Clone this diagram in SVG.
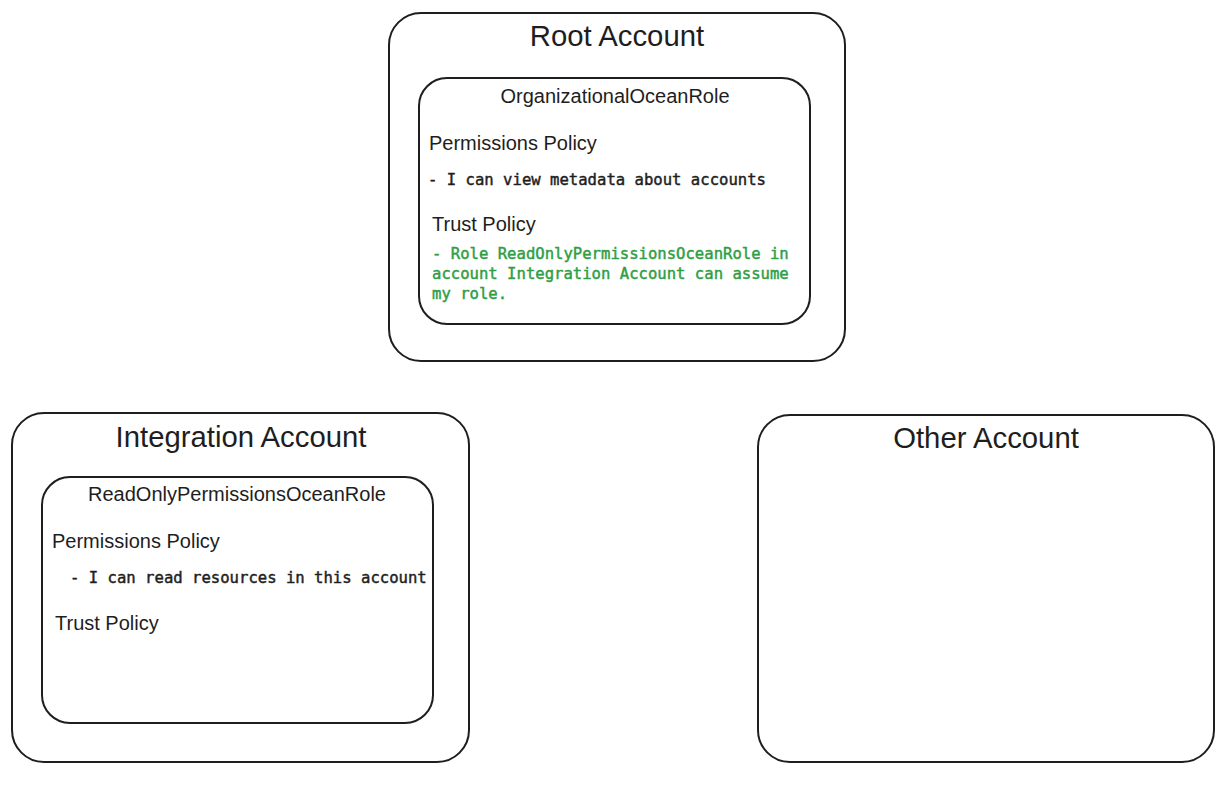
<svg xmlns="http://www.w3.org/2000/svg" width="1225" height="787" viewBox="0 0 1225 787">
<style>
.box{fill:none;stroke:#1e1e1e;stroke-width:2}
.title{font-family:"Liberation Sans",Arial,sans-serif;font-size:29.3px;fill:#1e1e1e;text-anchor:middle}
.role{font-family:"Liberation Sans",Arial,sans-serif;font-size:20px;fill:#1e1e1e;text-anchor:middle}
.head{font-family:"Liberation Sans",Arial,sans-serif;font-size:20px;fill:#1e1e1e}
.mono{font-family:"DejaVu Sans Mono","Liberation Mono",monospace;font-size:15.6px;fill:#1e1e1e;stroke:#1e1e1e;stroke-width:0.45}
.green{fill:#2f9e44;stroke:#2f9e44}
</style>
<rect width="1225" height="787" fill="#ffffff"/>
<g id="root-account">
<rect class="box" x="389" y="13" width="456" height="348" rx="32"/>
<text class="title" x="617" y="46">Root Account</text>
</g>
<g id="organizational-ocean-role">
<rect class="box" x="419" y="78" width="391" height="246" rx="28"/>
<text class="role" x="615" y="103">OrganizationalOceanRole</text>
<text class="head" x="429" y="150">Permissions Policy</text>
<text class="mono" x="428" y="185">- I can view metadata about accounts</text>
<text class="head" x="432" y="231">Trust Policy</text>
<text class="mono green" x="432" y="259">- Role ReadOnlyPermissionsOceanRole in</text>
<text class="mono green" x="432" y="279">account Integration Account can assume</text>
<text class="mono green" x="432" y="299">my role.</text>
</g>
<g id="integration-account">
<rect class="box" x="12" y="413" width="457" height="349" rx="32"/>
<text class="title" x="241" y="447">Integration Account</text>
</g>
<g id="read-only-permissions-ocean-role">
<rect class="box" x="42" y="477" width="391" height="246" rx="28"/>
<text class="role" x="237" y="501">ReadOnlyPermissionsOceanRole</text>
<text class="head" x="52" y="548">Permissions Policy</text>
<text class="mono" x="70" y="583">- I can read resources in this account</text>
<text class="head" x="55" y="630">Trust Policy</text>
</g>
<g id="other-account">
<rect class="box" x="758" y="415" width="456" height="347" rx="32"/>
<text class="title" x="986" y="448">Other Account</text>
</g>
<g id="connectors"></g>
</svg>
